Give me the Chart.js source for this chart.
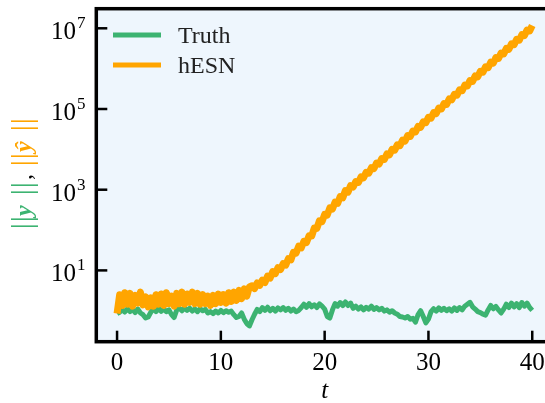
<!DOCTYPE html>
<html>
<head>
<meta charset="utf-8">
<script src="https://cdn.jsdelivr.net/npm/chart.js@4.4.1/dist/chart.umd.min.js"></script>
<style>
  html, body { margin: 0; padding: 0; background: #fff; overflow: hidden; }
  canvas { display: block; }
</style>
</head>
<body>
<canvas id="norma" width="560" height="403"></canvas>
<script>
// time grid (t)
var time = [
  0,0.25,0.5,0.75,1,1.25,1.5,1.75,2,2.25,2.5,2.75,3,3.25,3.5,3.75,
  4,4.25,4.5,4.75,5,5.25,5.5,5.75,6,6.25,6.5,6.75,7,7.25,7.5,7.75,
  8,8.25,8.5,8.75,9,9.25,9.5,9.75,10,10.25,10.5,10.75,11,11.25,11.5,11.75,
  12,12.25,12.5,12.75,13,13.25,13.5,13.75,14,14.25,14.5,14.75,15,15.25,15.5,15.75,
  16,16.25,16.5,16.75,17,17.25,17.5,17.75,18,18.25,18.5,18.75,19,19.25,19.5,19.75,
  20,20.25,20.5,20.75,21,21.25,21.5,21.75,22,22.25,22.5,22.75,23,23.25,23.5,23.75,
  24,24.25,24.5,24.75,25,25.25,25.5,25.75,26,26.25,26.5,26.75,27,27.25,27.5,27.75,
  28,28.25,28.5,28.75,29,29.25,29.5,29.75,30,30.25,30.5,30.75,31,31.25,31.5,31.75,
  32,32.25,32.5,32.75,33,33.25,33.5,33.75,34,34.25,34.5,34.75,35,35.25,35.5,35.75,
  36,36.25,36.5,36.75,37,37.25,37.5,37.75,38,38.25,38.5,38.75,39,39.25,39.5,39.75,
  40
];

// ||y|| (Truth)
var truth = [
  0.85,0.92,1.05,0.93,1.12,0.95,1.08,0.90,1.10,0.88,0.80,0.66,0.70,0.92,1.12,0.95,
  1.15,0.97,1.10,0.95,1.05,0.80,0.68,1.05,1.15,1.00,1.18,1.02,1.15,0.98,1.10,0.95,
  1.12,1.00,1.08,0.88,0.95,0.85,0.98,0.88,1.02,0.90,1.00,0.92,0.98,0.80,0.68,0.72,
  0.88,0.62,0.48,0.42,0.60,0.82,1.08,0.95,1.20,1.02,1.22,1.00,1.15,0.98,1.18,1.05,
  1.20,1.02,1.15,0.98,1.10,0.95,1.02,1.20,1.45,1.22,1.50,1.25,1.40,1.20,1.48,1.30,
  1.10,0.72,0.66,1.05,1.50,1.30,1.60,1.35,1.65,1.35,1.55,1.15,1.30,1.10,1.25,1.05,
  1.22,1.10,1.30,1.08,1.20,1.05,1.15,0.98,1.05,0.92,1.00,0.88,0.82,0.72,0.70,0.66,
  0.72,0.62,0.65,0.52,0.80,1.00,0.72,0.50,0.62,0.95,1.12,0.98,1.18,1.02,1.15,1.00,
  1.12,0.98,1.18,1.02,1.20,1.05,1.30,1.45,1.62,1.25,1.10,0.95,0.90,0.82,0.78,1.05,
  1.35,1.12,1.28,1.05,0.88,1.10,1.45,1.20,1.55,1.25,1.50,1.20,1.60,1.30,1.55,1.20,
  1.02
];

// ||y_hat|| (hESN)
var hesn = [
  0.85,2.5,1.35,2.8,1.45,2.7,1.3,2.4,1.55,2.9,1.4,2.2,1.25,2.1,1.3,2.5,
  1.45,2.6,1.35,2.8,1.5,2.3,1.3,2.7,1.5,2.9,1.45,2.6,1.6,2.9,1.5,2.7,
  1.45,2.5,1.5,2.3,1.35,2.4,1.5,2.6,1.6,2.5,1.55,2.8,1.7,2.9,1.8,3.2,
  2.0,3.5,2.3,3.9,4.17,3.55,4.90,4.27,5.75,5.01,7.24,6.46,9.33,8.32,11.7,10.5,
  14.8,13.5,19.5,18.2,28.2,26.9,39.8,36.3,52.5,49.0,72.4,70.8,112,110,170,162,
  245,234,355,331,490,457,676,631,955,871,1259,1167,1600,1517,2075,1968,
  2698,2559,3508,3327,4560,4315,5916,5610,7691,7295,10000,9484,12970,12300,16870,15990,
  21930,20800,28510,26980,36980,35080,48080,45600,62520,59290,81280,76910,105400,100000,137100,130000,
  178200,169000,231200,219300,300600,285100,390800,370700,508200,480800,659200,625200,857000,812800,1114000,1057000,
  1445000,1371000,1879000,1782000,2443000,2317000,3177000,3006000,4121000,3908000,5358000,5082000,6966000,6607000,9036000,8570000,
  11750000
];

var xTicks = [0, 10, 20, 30, 40];
var yTicks = [1e1, 1e3, 1e5, 1e7];
var yTickExp = ['1', '3', '5', '7'];
var seriesNames = ['Truth', 'hESN'];

var verde = '#3cb371';
var naranja = '#ffa500';
var serif = '"Liberation Serif", "DejaVu Serif", serif';

function puntos(ys){
  return time.map(function(t, i){ return {x: t, y: ys[i]}; });
}

// fondo, marco, ticks hacia dentro, etiquetas y leyenda a mano
var ejes = {
  id: 'ejes',
  beforeDraw: function(chart){
    var ctx = chart.ctx, a = chart.chartArea;
    ctx.save();
    ctx.fillStyle = '#eef6fd';
    ctx.fillRect(a.left, a.top, a.right - a.left, a.bottom - a.top);
    ctx.restore();
  },
  afterDraw: function(chart){
    var ctx = chart.ctx, a = chart.chartArea;
    var sx = chart.scales.x, sy = chart.scales.y;
    ctx.save();
    ctx.strokeStyle = '#000';
    ctx.lineWidth = 3.5;
    ctx.strokeRect(a.left, a.top, a.right - a.left, a.bottom - a.top);

    ctx.lineWidth = 2.5;
    ctx.fillStyle = '#000';
    ctx.font = '25px ' + serif;
    ctx.textAlign = 'center';
    ctx.textBaseline = 'alphabetic';
    xTicks.forEach(function(v){
      var px = sx.getPixelForValue(v);
      ctx.beginPath(); ctx.moveTo(px, a.bottom); ctx.lineTo(px, a.bottom - 11); ctx.stroke();
      ctx.fillText(String(v), px, 370);
    });
    yTicks.forEach(function(v, i){
      var py = sy.getPixelForValue(v);
      ctx.beginPath(); ctx.moveTo(a.left, py); ctx.lineTo(a.left + 11, py); ctx.stroke();
      ctx.font = '25px ' + serif;
      ctx.textAlign = 'right';
      ctx.fillText('10', 76, py + 11);
      ctx.font = '17px ' + serif;
      ctx.textAlign = 'left';
      ctx.fillText(yTickExp[i], 77, py);
    });

    // x label
    ctx.font = 'italic 25px ' + serif;
    ctx.textAlign = 'center';
    ctx.fillText('t', (a.left + a.right) / 2, 398);

    // y label: ||y||, ||y^||
    ctx.save();
    ctx.translate(31, 228);
    ctx.rotate(-Math.PI / 2);
    function barras(u, color){
      ctx.fillStyle = color;
      ctx.fillRect(u, -20, 1.6, 27);
      ctx.fillRect(u + 7, -20, 1.6, 27);
    }
    ctx.textAlign = 'left';
    barras(1, verde);
    ctx.fillStyle = verde;
    ctx.font = 'italic bold 24px ' + serif;
    ctx.fillText('y', 12, 0);
    barras(35, verde);
    ctx.fillStyle = '#000';
    ctx.font = '24px ' + serif;
    ctx.fillText(',', 48, 0);
    barras(64, naranja);
    ctx.fillStyle = naranja;
    ctx.font = 'italic bold 24px ' + serif;
    ctx.fillText('\u0177', 76, 0);
    barras(99, naranja);
    ctx.restore();

    // leyenda
    var cols = [verde, naranja];
    var ly = [35, 65];
    ctx.font = '24px ' + serif;
    ctx.textAlign = 'left';
    chart.data.datasets.forEach(function(ds, i){
      var k = seriesNames.indexOf(ds.label);
      ctx.strokeStyle = cols[k];
      ctx.lineWidth = 5;
      ctx.beginPath(); ctx.moveTo(113, ly[k]); ctx.lineTo(161, ly[k]); ctx.stroke();
      ctx.fillStyle = '#222';
      ctx.fillText(ds.label, 178, ly[k] + 8);
    });
    ctx.restore();
  }
};

var config = {
  type: 'line',
  data: {
    datasets: [{
      label: seriesNames[0],
      data: puntos(truth),
      borderColor: verde,
      borderWidth: 5,
      pointRadius: 0,
      borderJoinStyle: 'round',
      tension: 0,
      order: 1
    }, {
      label: seriesNames[1],
      data: puntos(hesn),
      borderColor: naranja,
      borderWidth: 7,
      pointRadius: 0,
      borderJoinStyle: 'round',
      tension: 0,
      order: 0
    }]
  },
  options: {
    responsive: false,
    animation: false,
    devicePixelRatio: 1,
    layout: { padding: { left: 96.3, right: 7, top: 8.7, bottom: 61.3 } },
    plugins: { legend: { display: false }, tooltip: { enabled: false } },
    scales: {
      x: { type: 'linear', min: -2, max: 42, display: false },
      y: { type: 'logarithmic', min: 0.171, max: 3.06e7, display: false }
    }
  },
  plugins: [ejes]
};

new Chart(document.getElementById('norma'), config);
</script>
</body>
</html>
